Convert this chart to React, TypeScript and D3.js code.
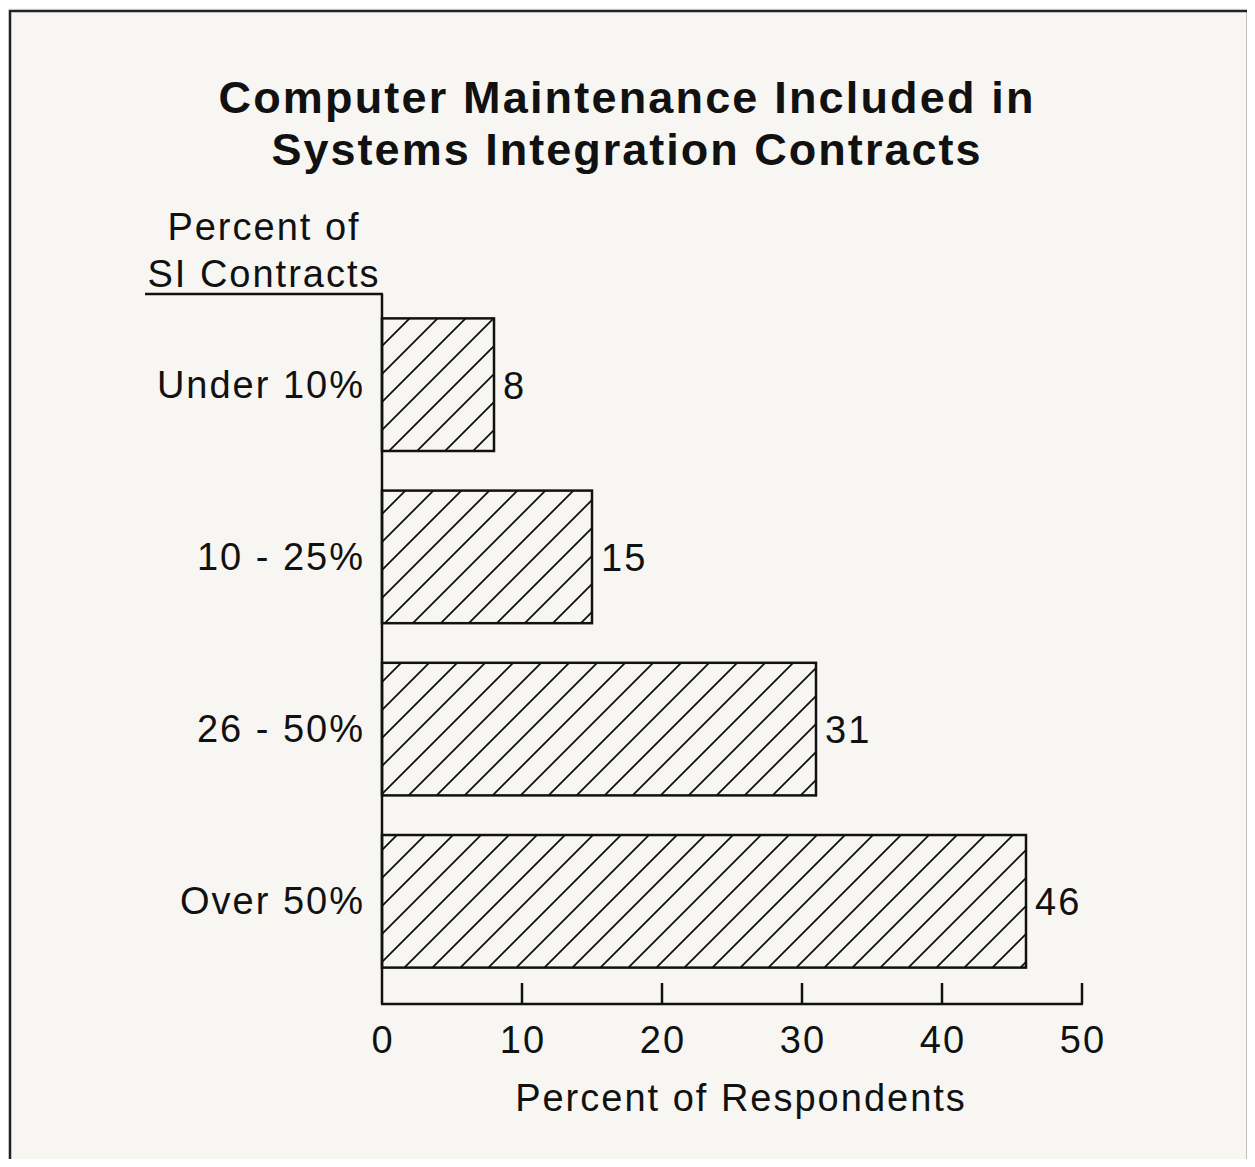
import React from "react";
import * as d3 from "d3";

const categories = ["Under 10%", "10 - 25%", "26 - 50%", "Over 50%"];
const values = [8, 15, 31, 46];
const xTicks = [0, 10, 20, 30, 40, 50];
const titleLines = ["Computer Maintenance Included in", "Systems Integration Contracts"];
const yHeader = ["Percent of", "SI Contracts"];
const xLabel = "Percent of Respondents";

export default function App() {
  const W = 1255, H = 1167;
  const x = d3.scaleLinear().domain([0, 50]).range([382, 1082]);
  const y = d3.scaleBand().domain(categories).range([296, 990]).paddingInner(0.23).paddingOuter(0.13);
  const axisY = 1004;
  const font = "'Liberation Sans', Arial, Helvetica, sans-serif";
  const titleLens = [815, 709];
  const ls = 2;
  const fs = 38;
  return (
    <div style={{ margin: -8 }}>
      <svg width={W} height={H} style={{ display: "block", background: "#f7f6f3" }} fontFamily={font}>
        <defs>
          <pattern id="hatch" patternUnits="userSpaceOnUse" width={28} height={28}>
            <path d="M-7,7 L7,-7 M0,28 L28,0 M21,35 L35,21" stroke="#111" strokeWidth={1.8} />
          </pattern>
        </defs>
        <path d={`M10,1167 L10,11 L1248,11 L1248,1167`} fill="none" stroke="#222" strokeWidth={2.5} />
        {titleLines.map((t, i) => (
          <text key={i} x={626} y={113 + i * 52} textAnchor="middle" fontSize={45} fontWeight="bold" fill="#111"
            textLength={titleLens[i]} lengthAdjust="spacing">{t}</text>
        ))}
        {yHeader.map((t, i) => (
          <text key={i} x={264} y={240 + i * 47} textAnchor="middle" fontSize={fs} fill="#111" letterSpacing={ls}>{t}</text>
        ))}
        <line x1={145} x2={383} y1={294} y2={294} stroke="#111" strokeWidth={2.5} />
        <line x1={382} x2={382} y1={294} y2={axisY} stroke="#111" strokeWidth={2.5} />
        {categories.map((c, i) => {
          const by = y(c)!;
          const bh = y.bandwidth();
          return (
            <g key={c}>
              <rect x={x(0)} y={by} width={x(values[i]) - x(0)} height={bh} fill="url(#hatch)" stroke="#111" strokeWidth={2.5} />
              <text x={365} y={by + bh / 2 + 13} textAnchor="end" fontSize={fs} fill="#111" letterSpacing={ls}>{c}</text>
              <text x={x(values[i]) + 9} y={by + bh / 2 + 14} fontSize={fs} fill="#111" letterSpacing={ls}>{values[i]}</text>
            </g>
          );
        })}
        <line x1={381} x2={1083} y1={axisY} y2={axisY} stroke="#111" strokeWidth={2.5} />
        {xTicks.map((t) => (
          <g key={t}>
            {t > 0 && <line x1={x(t)} x2={x(t)} y1={axisY} y2={983} stroke="#111" strokeWidth={2.5} />}
            <text x={x(t) + 1} y={1053} textAnchor="middle" fontSize={fs} fill="#111" letterSpacing={ls}>{t}</text>
          </g>
        ))}
        <text x={741} y={1111} textAnchor="middle" fontSize={fs} fill="#111" letterSpacing={ls}>{xLabel}</text>
      </svg>
    </div>
  );
}
